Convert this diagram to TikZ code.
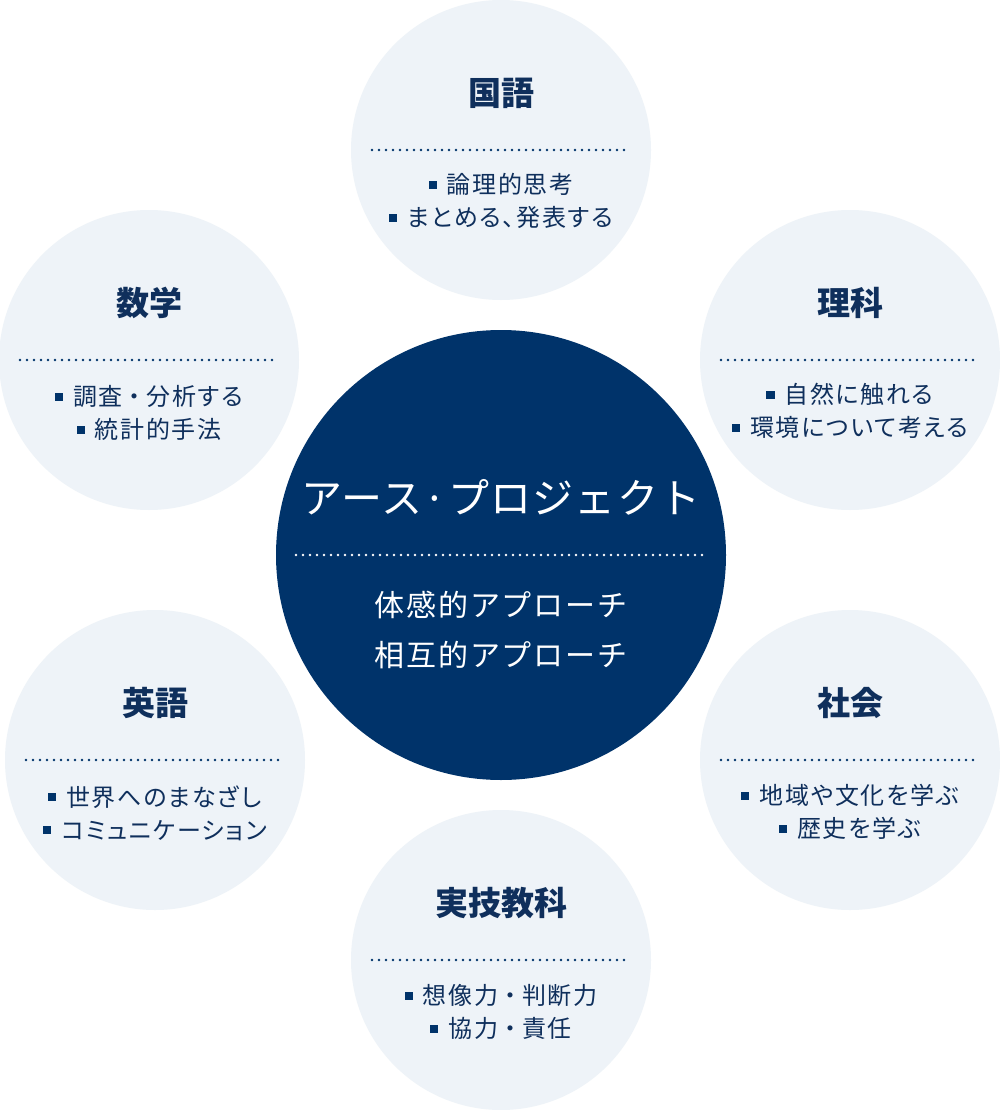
\documentclass[tikz,border=0pt]{standalone}
\usepackage{fontspec}
\setmainfont{Noto Sans CJK JP}
\newfontfamily\itemfont[LetterSpace=7,RawFeature=+palt]{Noto Sans CJK JP}
\newfontfamily\subfont[LetterSpace=6]{Noto Sans CJK JP}
\newfontfamily\hubfont[LetterSpace=3]{Noto Sans CJK JP}
\definecolor{navy}{HTML}{00336A}
\definecolor{pale}{HTML}{EEF3F8}
\definecolor{ink}{HTML}{0F2F5C}
\newcommand{\bul}{\textcolor{navy}{\rule[0.2em]{0.34em}{0.34em}}\hspace{0.42em}}
\newcommand{\nak}{\makebox[1em]{・}}
\tikzset{
  subj/.style={circle, fill=pale, minimum size=300pt, inner sep=0pt},
  hub/.style={circle, fill=navy, minimum size=450pt, inner sep=0pt},
  ttl/.style={text=ink, inner sep=0pt, font=\bfseries\fontsize{33}{38}\selectfont},
  items/.style={text=ink, align=center, inner sep=0pt, font=\itemfont\fontsize{24}{33}\selectfont},
  hubttl/.style={text=white, inner sep=0pt, font=\hubfont\fontsize{41}{48}\selectfont},
  hubsub/.style={text=white, align=center, inner sep=0pt, font=\subfont\fontsize{30}{50}\selectfont},
  dots/.style={line width=2.8pt, dash pattern=on 0pt off 7pt, line cap=round},
}
\begin{document}
\begin{tikzpicture}[x=1pt,y=-1pt]
\useasboundingbox[fill=white] (0,0) rectangle (1000,1110);
% subject circles
\foreach \n/\x/\y in {kokugo/501/150, sugaku/149/360, rika/850/360, eigo/155/760, shakai/850/760, jitsugi/501/960}{
  \node[subj] (\n) at (\x,\y) {};
  \draw[dots, navy] ([xshift=-129pt]\n.center) -- ([xshift=130pt]\n.center);
}
% hub
\node[hub] (hub) at (501,555) {};
\draw[dots, white] ([xshift=-205pt]hub.center) -- ([xshift=205pt]hub.center);
\node[hubttl] (hubt) at ([yshift=58pt]hub.center) {アース·プロジェクト};
\node[hubsub] (hubs) at ([yshift=-75pt]hub.center) {体感的アプローチ\\相互的アプローチ};
% titles
\node[ttl] (t1) at ([yshift=57pt]kokugo.center) {国語};
\node[ttl] (t2) at ([yshift=57pt]sugaku.center) {数学};
\node[ttl] (t3) at ([yshift=57pt]rika.center) {理科};
\node[ttl] (t4) at ([yshift=57pt]eigo.center) {英語};
\node[ttl] (t5) at ([yshift=57pt]shakai.center) {社会};
\node[ttl] (t6) at ([yshift=57pt]jitsugi.center) {実技教科};
% items
\node[items] (i1) at ([yshift=-51pt]kokugo.center) {\bul 論理的思考\\\bul まとめる、発表する};
\node[items] (i2) at ([yshift=-53pt]sugaku.center) {\bul 調査\nak 分析する\\\bul 統計的手法};
\node[items] (i3) at ([yshift=-51pt]rika.center) {\bul 自然に触れる\\\bul 環境について考える};
\node[items] (i4) at ([yshift=-53pt]eigo.center) {\bul 世界へのまなざし\\\bul コミュニケーション};
\node[items] (i5) at ([yshift=-52pt]shakai.center) {\bul 地域や文化を学ぶ\\\bul 歴史を学ぶ};
\node[items] (i6) at ([yshift=-52pt]jitsugi.center) {\bul 想像力\nak 判断力\\\bul 協力\nak 責任};
\end{tikzpicture}
\end{document}
